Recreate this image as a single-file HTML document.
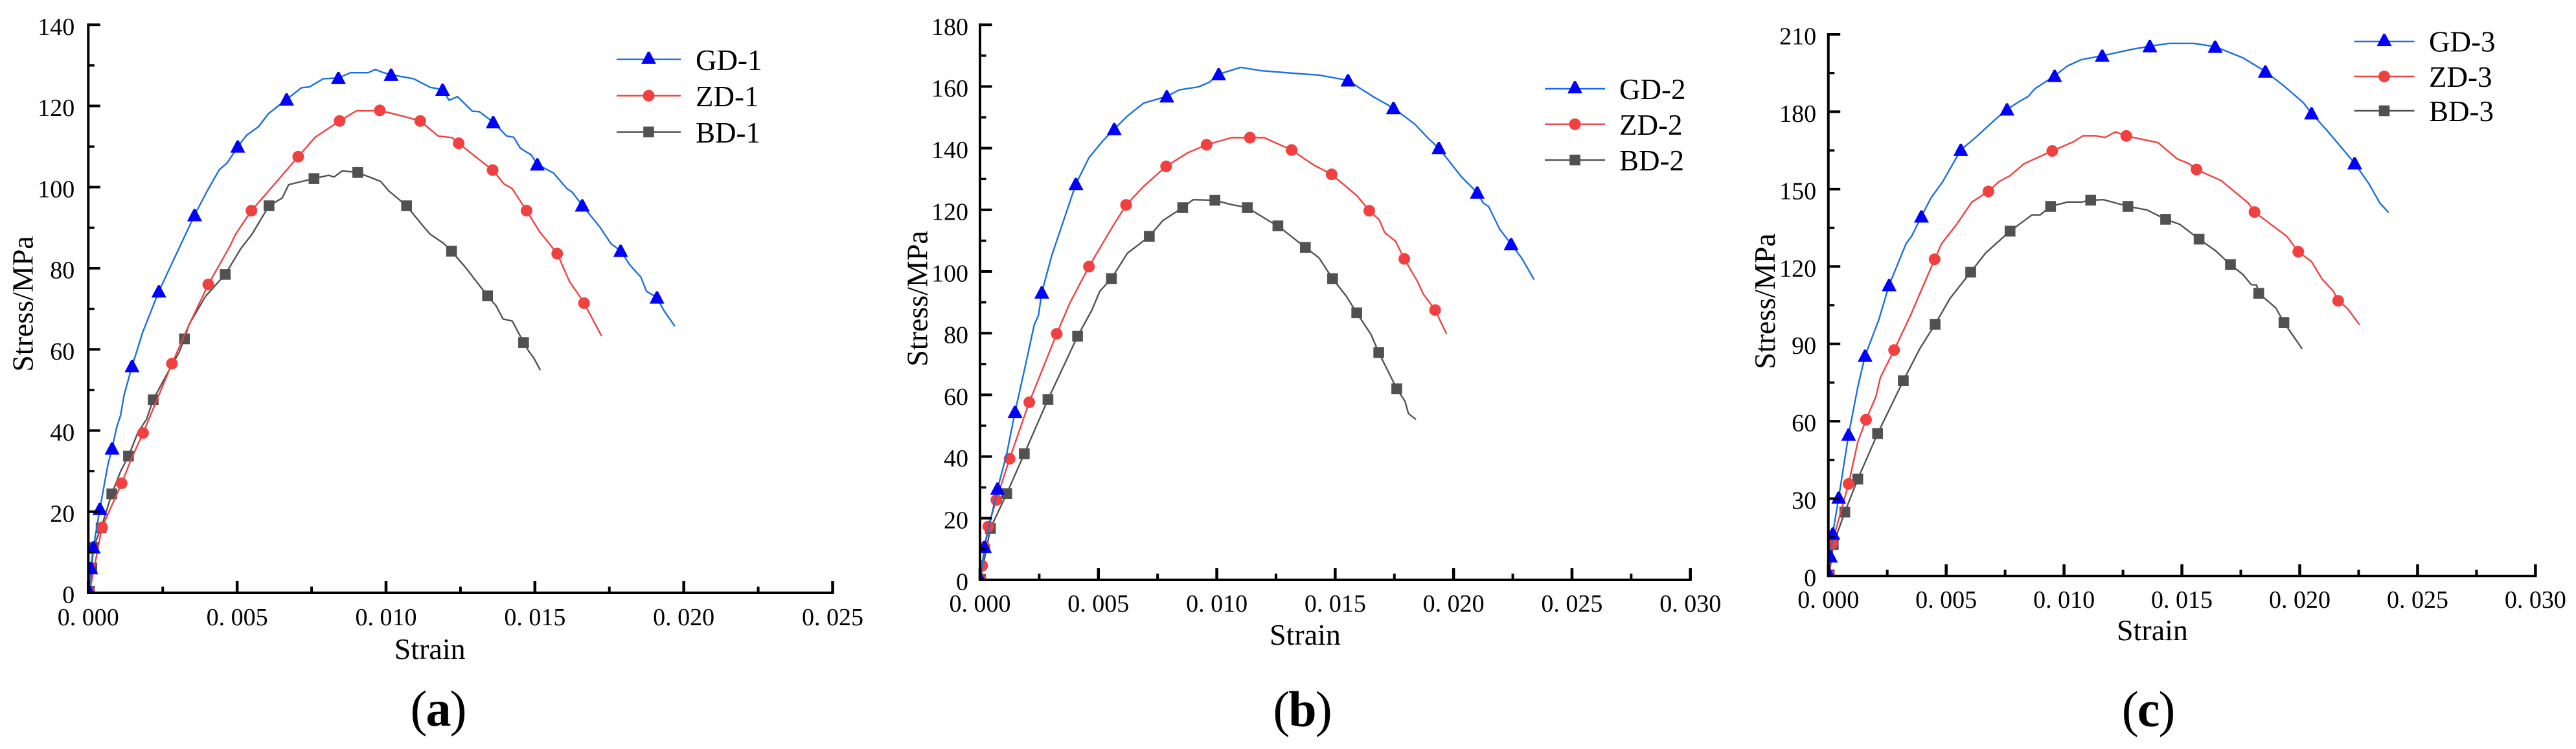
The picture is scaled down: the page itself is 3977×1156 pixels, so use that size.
<!DOCTYPE html>
<html lang="en">
<head>
<meta charset="utf-8">
<title>Stress-strain curves</title>
<style>
html,body{margin:0;padding:0;background:#fff;width:3977px;height:1156px;overflow:hidden}
svg{display:block}
text{font-family:"Liberation Serif",serif;fill:#000}
</style>
</head>
<body>
<svg id="figure" xmlns="http://www.w3.org/2000/svg" width="3977" height="1156" viewBox="0 0 3977 1156">
<rect width="3977" height="1156" fill="#fff"/>
</svg>
<script>
/* ---------- Panel (a) ---------- */
const xTicksA = ["0. 000","0. 005","0. 010","0. 015","0. 020","0. 025"];
const xValuesA = [0,0.005,0.01,0.015,0.02,0.025];
const yTicksA = [0,20,40,60,80,100,120,140];
const legendA = ["GD-1","ZD-1","BD-1"];

const gd1Strain = [.00004,.00008,.00017,.00039,.0008,.00147,.00237,.00357,.00502,.00666,.0084,.01017,.0119,.0136,.01508,.01659,.01788,.0191];
const gd1Stress = [.3,6.1,11.2,20.7,35.6,55.9,74.3,93.1,110,121.6,126.9,127.7,124,116,105.6,95.5,84.3,72.8];
const gd1ExtraStrain = [0,.00002,.00066,.00095,.00109,.0012,.00164,.00182,.00293,.00399,.0044,.00467,.00532,.00572,.00605,.00716,.00743,.00789,.00881,.0094,.00964,.00992,.01093,.01148,.01212,.0124,.0129,.01313,.01405,.01429,.01451,.01488,.01562,.01608,.01626,.01718,.01755,.01819,.01856,.01875,.01933,.0197];
const gd1ExtraStress = [0,3.5,31.6,40.7,43.9,48.7,59.8,64.1,83.1,99,104.3,106,112.8,114.9,118.1,124.5,124.7,126.7,128.2,128.2,129,128.2,126.7,124.6,121.4,122.3,118.7,118.6,112.6,112.3,109.6,107.9,103.5,99.6,98.7,90.2,86.1,80.8,77.8,74.3,69.6,65.7];

const zd1Strain = [.00004,.00046,.00112,.00184,.00281,.00403,.00548,.00705,.00844,.00979,.01115,.01244,.01358,.01472,.01575,.01665];
const zd1Stress = [.1,16.1,27,39.4,56.5,76,94.2,107.5,116.3,118.9,116.3,110.8,104.2,94.2,83.6,71.4];
const zd1ExtraStrain = [0,.00145,.00338,.00476,.00495,.00605,.0066,.00762,.009,.00946,.01056,.01175,.01222,.01304,.01396,.01424,.01516,.01617,.01645,.01724];
const zd1ExtraStress = [0,33.1,66,85.5,88.4,99,103.7,112.3,118.8,118.8,117.5,112.6,112.2,107.3,100.8,99.6,89,76.6,73.7,63.3];

const bd1Strain = [.00004,.00012,.00017,.00043,.00079,.00135,.00218,.00323,.0046,.00607,.00758,.00905,.01069,.0122,.01341,.01462];
const bd1Stress = [.4,6.1,11.2,16,24.4,33.7,47.6,62.6,78.5,95.4,102.1,103.6,95.4,84.2,73.2,61.7];
const bd1ExtraStrain = [0,.00109,.00167,.00196,.00265,.00305,.00338,.00394,.00513,.0055,.00651,.00673,.00807,.00826,.00853,.00982,.0101,.0112,.01148,.01194,.01267,.01369,.01393,.01424,.01479,.01497,.01518];
const bd1ExtraStress = [0,30,39.6,42.8,54,59.3,66.1,73.1,84.9,88.4,97.3,100.6,102.9,102.5,104,101.4,99,90.8,88.4,86.1,80.2,70.8,67.5,67,59.6,57.8,54.9];

/* ---------- Panel (b) ---------- */
const xTicksB = ["0. 000","0. 005","0. 010","0. 015","0. 020","0. 025","0. 030"];
const xValuesB = [0,0.005,0.01,0.015,0.02,0.025,0.03];
const yTicksB = [0,20,40,60,80,100,120,140,160,180];
const legendB = ["GD-2","ZD-2","BD-2"];

const gd2Strain = [.00002,.00019,.00074,.00148,.00261,.00405,.00567,.00789,.01008,.01554,.01746,.01938,.021,.02243];
const gd2Stress = [.2,10.7,29.6,54.5,93.2,128.4,146.2,156.8,164,162,153,140,125.6,108.9];
const gd2ExtraStrain = [0,.00113,.00194,.00229,.00247,.00303,.0046,.00518,.00622,.00691,.00842,.00923,.00969,.01101,.01189,.01339,.01432,.01605,.01663,.01836,.01894,.02033,.02125,.02148,.02195,.02287,.0234];
const gd2ExtraStress = [0,40.9,70.3,82.7,85.8,105.2,136.9,142.3,150.4,154.6,158.9,159.9,161.4,166.2,165.1,164.2,163.7,159.4,156.6,147.8,143.1,130.7,122.2,121.1,113.7,104.4,97.4];

const zd2Strain = [.00002,.00009,.00019,.00035,.00069,.00125,.00208,.00324,.0046,.00617,.00786,.00957,.0114,.01316,.01485,.01644,.01792,.01922];
const zd2Stress = [.2,4.6,10.7,17.3,25.9,39.3,57.6,79.8,101.6,121.6,134.1,141.1,143.4,139.4,131.5,119.7,104.1,87.5];
const zd2ExtraStrain = [0,.00379,.00553,.00691,.00877,.01062,.012,.01408,.01593,.01686,.01709,.01755,.01848,.01871,.0197];
const zd2ExtraStress = [0,89.7,113.7,127.6,138.5,143.4,143.4,134.6,124.5,116.8,112.6,109.8,96.7,92.8,79.8];

const bd2Strain = [.00002,.00044,.00113,.00187,.00287,.00412,.00555,.00715,.00856,.00992,.01129,.01258,.01374,.01489,.01591,.01684,.0176];
const bd2Stress = [.2,16.7,28,40.9,58.5,79,97.7,111.4,120.7,123.1,120.7,114.8,107.8,97.7,86.6,73.7,62];
const bd2ExtraStrain = [0,.00472,.00506,.00622,.00772,.009,.01062,.01223,.01432,.01547,.01651,.01795,.01809,.01841];
const bd2ExtraStress = [0,87.4,93.6,105.9,116.5,123.3,121.7,116.3,104.4,92,79.6,57.9,54,52];

/* ---------- Panel (c) ---------- */
const xTicksC = ["0. 000","0. 005","0. 010","0. 015","0. 020","0. 025","0. 030"];
const xValuesC = [0,0.005,0.01,0.015,0.02,0.025,0.03];
const yTicksC = [0,30,60,90,120,150,180,210];
const legendC = ["GD-3","ZD-3","BD-3"];

const gd3Strain = [.00001,.00009,.00019,.00044,.00086,.00156,.00258,.00395,.00562,.00758,.0096,.01162,.01364,.01641,.01854,.0205,.02233];
const gd3Stress = [1.1,7.6,16.5,30.4,54.8,85.4,112.8,139.4,165.2,180.9,193.9,201.7,205.4,205.2,195.6,179.4,160];
const gd3ExtraStrain = [0,.00125,.00214,.0033,.00353,.00435,.00486,.0062,.00702,.00818,.00848,.00876,.01015,.01074,.01294,.01445,.0155,.01759,.01933,.02015,.02119,.02294,.0234,.02377];
const gd3ExtraStress = [0,73.3,99.3,128.9,131.7,146.5,153,169.6,176.5,184.4,185.9,188.9,197.8,200.2,204.3,206.5,206.5,200.9,190,183.5,172.4,152,144.6,140.9];

const zd3Strain = [.00004,.00016,.00086,.0016,.00279,.00451,.00679,.0095,.01264,.01562,.01808,.01994,.02163];
const zd3Stress = [.2,12.6,35.7,60.6,87.6,122.8,149.1,164.8,170.6,157.6,141.1,125.7,106.7];
const zd3ExtraStrain = [0,.00051,.00125,.00202,.00221,.0033,.00349,.00481,.00544,.00609,.00725,.00771,.0083,.01039,.01081,.01132,.01174,.01218,.01399,.0148,.01527,.01666,.01782,.01945,.0205,.02096,.02143,.02201,.02254];
const zd3ExtraStress = [0,24.3,52,69.6,77,97.4,101.1,128.9,136.3,145,153,155.2,159.8,168.3,170.7,170.7,170,172.2,168,161.7,160,153.3,144.6,131.7,121.9,115,110.4,103.9,97.4];

const bd3Strain = [.00004,.00021,.0007,.00125,.00209,.00318,.00453,.00604,.00771,.00943,.01113,.01271,.01431,.01573,.01706,.01826,.01933];
const bd3Stress = [.4,12.2,24.8,37.6,55.2,75.7,97.6,117.8,133.7,143.3,145.7,143.3,138.3,130.6,120.7,109.6,98.3];
const bd3ExtraStrain = [0,.00388,.00516,.00667,.00864,.00899,.01015,.01074,.01167,.01213,.01352,.01492,.01643,.01759,.01794,.01817,.01899,.0201];
const bd3ExtraStress = [0,88.1,107.6,125.2,140,140,145,145,145.9,144.8,141.9,136.3,126.1,116.9,113,112.8,103.9,88.1];

/* ---------- Layout (not data) ---------- */
const NS = "http://www.w3.org/2000/svg";
const svg = document.getElementById("figure");
const STYLE = {
  gd:{line:"#1a6fdf",fill:"#0000ff",kind:"triangle"},
  zd:{line:"#f14040",fill:"#f14040",kind:"circle"},
  bd:{line:"#515151",fill:"#515151",kind:"square"}
};
const panels = [
 {id:"a",x0:136.3,x1:1285.5,y0:915,y1:38.3,xMax:.025,yMax:140,yMinor:20,labelGap:21,xLabelDy:50,
  xTicks:xTicksA,xValues:xValuesA,yTicks:yTicksA,legend:legendA,
  legendX0:952,legendX1:1051,legendY:[91.7,147.7,203.7],legendTextX:1074,legendTextY:[108,164,220],
  xTitle:[663.7,1017],yTitle:[50.7,469],caption:[676,1120],bold:"a",
  series:[["bd",bd1Strain,bd1Stress,bd1ExtraStrain,bd1ExtraStress],["zd",zd1Strain,zd1Stress,zd1ExtraStrain,zd1ExtraStress],["gd",gd1Strain,gd1Stress,gd1ExtraStrain,gd1ExtraStress]]},
 {id:"b",x0:1513,x1:2609.7,y0:895,y1:38.3,xMax:.03,yMax:180,yMinor:20,labelGap:18,xLabelDy:49,
  xTicks:xTicksB,xValues:xValuesB,yTicks:yTicksB,legend:legendB,
  legendX0:2385,legendX1:2478,legendY:[137,191.7,247],legendTextX:2500,legendTextY:[153,208,263],
  xTitle:[2015,995],yTitle:[1431.7,461],caption:[2010,1121],bold:"b",
  series:[["bd",bd2Strain,bd2Stress,bd2ExtraStrain,bd2ExtraStress],["zd",zd2Strain,zd2Stress,zd2ExtraStrain,zd2ExtraStress],["gd",gd2Strain,gd2Stress,gd2ExtraStrain,gd2ExtraStress]]},
 {id:"c",x0:2822.7,x1:3914.4,y0:889,y1:53,xMax:.03,yMax:210,yMinor:30,labelGap:18.6,xLabelDy:49,
  xTicks:xTicksC,xValues:xValuesC,yTicks:yTicksC,legend:legendC,
  legendX0:3634.5,legendX1:3727.5,legendY:[64,118,171],legendTextX:3750,legendTextY:[79.6,134,187],
  xTitle:[3323,988],yTitle:[2740,465],caption:[3316,1121],bold:"c",
  series:[["bd",bd3Strain,bd3Stress,bd3ExtraStrain,bd3ExtraStress],["zd",zd3Strain,zd3Stress,zd3ExtraStrain,zd3ExtraStress],["gd",gd3Strain,gd3Stress,gd3ExtraStrain,gd3ExtraStress]]}
];

function mk(tag, attrs, parent, txt){
  const e = document.createElementNS(NS, tag);
  for (const k in attrs) e.setAttribute(k, attrs[k]);
  if (txt !== undefined) e.textContent = txt;
  parent.appendChild(e);
  return e;
}
function drawMarker(parent, kind, cx, cy, fill){
  let m;
  if (kind === "triangle") {
    m = mk("polygon",{points:(cx-11.5)+","+(cy+9.5)+" "+(cx+11.5)+","+(cy+9.5)+" "+(cx+1.5)+","+(cy-9.5)+" "+(cx-1.5)+","+(cy-9.5),fill:fill},parent);
  } else if (kind === "circle") {
    m = mk("circle",{cx:cx,cy:cy,r:9,fill:fill},parent);
  } else {
    m = mk("rect",{x:cx-8.3,y:cy-8.3,width:16.6,height:16.6,fill:fill},parent);
  }
  return m;
}

panels.forEach(function(p){
  const xs = function(v){ return p.x0 + v/p.xMax*(p.x1-p.x0); };
  const ys = function(v){ return p.y0 - v/p.yMax*(p.y0-p.y1); };

  const g = mk("g",{},svg);
  
  

  const defs = mk("defs",{},g);
  const cp = mk("clipPath",{id:"clip-"+p.id},defs);
  mk("rect",{x:p.x0-1,y:p.y1-30,width:p.x1-p.x0+10,height:p.y0-p.y1+31},cp);

  const plot = mk("g",{"clip-path":"url(#clip-"+p.id+")"},g);
  
  

  p.series.forEach(function(s){
    const st = STYLE[s[0]];
    const pts = [];
    s[1].forEach(function(v,i){ pts.push([v,s[2][i]]); });
    s[3].forEach(function(v,i){ pts.push([v,s[4][i]]); });
    pts.sort(function(a,b){ return a[0]-b[0]; });
    const line = mk("polyline",{points:pts.map(function(q){return xs(q[0]).toFixed(1)+","+ys(q[1]).toFixed(1);}).join(" "),fill:"none",stroke:st.line,"stroke-width":2.4,"stroke-linejoin":"round"},plot);
    
    
    s[1].forEach(function(v,i){
      const m = drawMarker(plot,st.kind,xs(v),ys(s[2][i]),st.fill);
      
      
    });
  });

  /* axes */
  const ax = mk("g",{stroke:"#000",fill:"none"},g);
  
  
  const yAxis = mk("line",{x1:p.x0,x2:p.x0,y1:p.y1-2,y2:p.y0+2,"stroke-width":4},ax);
  
  
  const xAxis = mk("line",{x1:p.x0-2,x2:p.x1+2,y1:p.y0,y2:p.y0,"stroke-width":4},ax);
  
  

  p.yTicks.forEach(function(v,i){
    const y = ys(v);
    const t = mk("line",{x1:p.x0,x2:p.x0+18.5,y1:y,y2:y,"stroke-width":4},ax);
    
    
    if (i < p.yTicks.length-1) {
      const my = ys(v + p.yMinor/2);
      const mt = mk("line",{x1:p.x0,x2:p.x0+9.5,y1:my,y2:my,"stroke-width":3.5},ax);
      
      
    }
    const lab = mk("text",{x:p.x0-p.labelGap,y:y+15.5,"text-anchor":"end","font-size":38},g,String(v));
    
    
  });
  p.xValues.forEach(function(v,i){
    const x = xs(v);
    const t = mk("line",{x1:x,x2:x,y1:p.y0,y2:p.y0-18,"stroke-width":4.5},ax);
    
    
    if (i < p.xValues.length-1) {
      const mx = xs(v + (p.xValues[1]-p.xValues[0])/2);
      const mt = mk("line",{x1:mx,x2:mx,y1:p.y0,y2:p.y0-9.5,"stroke-width":4},ax);
      
      
    }
    const lab = mk("text",{x:x,y:p.y0+p.xLabelDy,"text-anchor":"middle","font-size":38},g,p.xTicks[i]);
    
    
  });

  const xt = mk("text",{x:p.xTitle[0],y:p.xTitle[1],"text-anchor":"middle","font-size":46},g,"Strain");
  
  
  const yt = mk("text",{transform:"translate("+p.yTitle[0]+","+p.yTitle[1]+") rotate(-90)","text-anchor":"middle","font-size":46},g,"Stress/MPa");
  
  

  /* legend */
  const leg = mk("g",{},g);
  
  
  ["gd","zd","bd"].forEach(function(k,i){
    const st = STYLE[k];
    const ly = p.legendY[i];
    const e = mk("g",{},leg);
    
    
    mk("line",{x1:p.legendX0,x2:p.legendX1,y1:ly,y2:ly,stroke:st.line,"stroke-width":2.4},e);
    drawMarker(e,st.kind,(p.legendX0+p.legendX1)/2,k==="gd"?ly-2.4:ly,st.fill);
    mk("text",{x:p.legendTextX,y:p.legendTextY[i],"font-size":45},e,p.legend[i]);
  });

  /* caption */
  const cap = mk("text",{x:p.caption[0],y:p.caption[1],"text-anchor":"middle","font-size":78,"letter-spacing":"-2"},g);
  
  
  mk("tspan",{},cap,"(");
  mk("tspan",{"font-weight":"bold"},cap,p.bold);
  mk("tspan",{},cap,")");
});
</script>
</body>
</html>
